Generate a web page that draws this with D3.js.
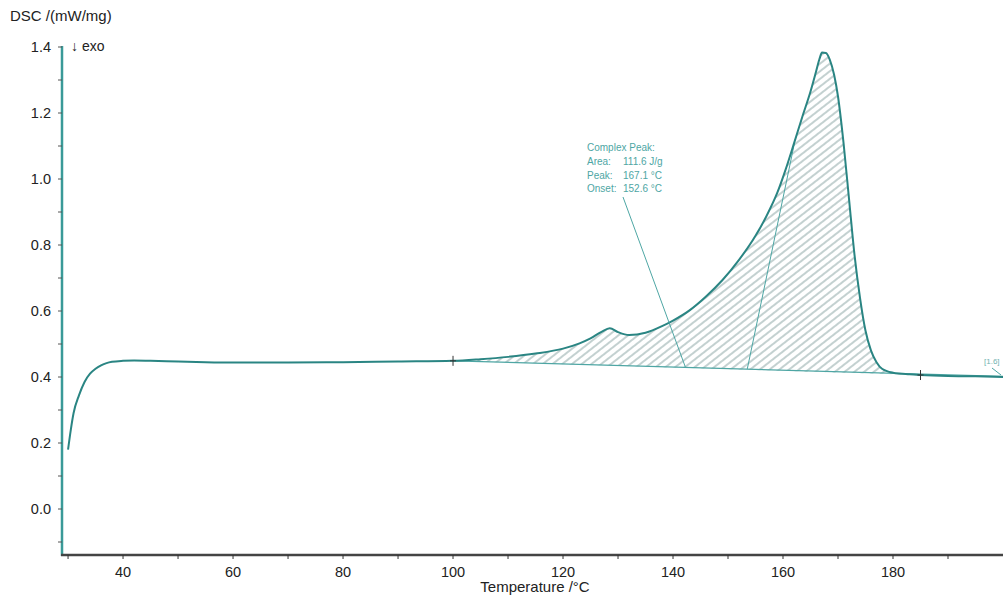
<!DOCTYPE html>
<html>
<head>
<meta charset="utf-8">
<script src="https://cdn.jsdelivr.net/npm/d3@7"></script>
<style>
  body { margin: 0; background: #fff; }
  svg { font-family: "Liberation Sans", Arial, sans-serif; }
</style>
</head>
<body>
<svg id="chart" width="1003" height="601"></svg>
<script>
// DSC curve
var temp = [30, 30.5, 31, 32, 33, 34, 35, 36, 37, 38, 40, 42, 45, 50, 55, 60, 70, 80, 90,
            100, 105, 110, 115, 120, 123, 125, 127, 128.5, 130, 132, 135, 138, 140, 143, 146,
            149, 152, 155, 157, 159, 160.5, 162, 163.5, 165, 166, 166.6, 167.1, 167.8, 168.5,
            169.3, 170, 171, 172, 173, 174, 175, 176, 177, 178, 180, 183, 185, 190, 195, 200];
var dsc = [0.18, 0.24, 0.29, 0.345, 0.385, 0.41, 0.425, 0.435, 0.442, 0.446, 0.449, 0.45, 0.449,
           0.447, 0.445, 0.444, 0.444, 0.445, 0.447,
           0.449, 0.454, 0.461, 0.471, 0.486, 0.502, 0.517, 0.537, 0.548, 0.536, 0.527, 0.534,
           0.554, 0.571, 0.602, 0.644, 0.694, 0.755, 0.828, 0.888, 0.96, 1.03, 1.108, 1.188,
           1.265, 1.325, 1.362, 1.383, 1.382, 1.362, 1.315, 1.25, 1.11, 0.94, 0.77, 0.64, 0.54,
           0.48, 0.445, 0.425, 0.413, 0.408, 0.406, 0.403, 0.402, 0.40];

// integration baseline and onset tangent
var baseT = [100, 185];
var baseV = [0.449, 0.406];
var onsetT = [153.5, 162.1];
var onsetV = [0.424, 1.11];
var leaderT = 142.3;

var xTicks = [40, 60, 80, 100, 120, 140, 160, 180];
var yTicks = [0.0, 0.2, 0.4, 0.6, 0.8, 1.0, 1.2, 1.4];
var peakText = ['Complex Peak:', 'Area:', 'Peak:', 'Onset:'];
var peakVals = ['', '111.6 J/g', '167.1 °C', '152.6 °C'];

var teal = '#2a8583';
var light = '#4ea6a4';

var svg = d3.select('#chart');

var x = d3.scaleLinear().domain([28.9, 200]).range([62, 1003]);
var y = d3.scaleLinear().domain([0, 1.4]).range([509, 47]);

// hatch pattern
var defs = svg.append('defs');
var pat = defs.append('pattern')
    .attr('id', 'hatch')
    .attr('patternUnits', 'userSpaceOnUse')
    .attr('width', 6).attr('height', 6)
    .attr('patternTransform', 'rotate(-38)');
pat.append('line')
    .attr('x1', 0).attr('y1', 3).attr('x2', 6).attr('y2', 3)
    .attr('stroke', '#88a3a2').attr('stroke-width', 1);

function baseAt(t){
    return baseV[0] + (baseV[1] - baseV[0]) * (t - baseT[0]) / (baseT[1] - baseT[0]);
}

var pts = temp.map((t, i) => ({t: t, v: dsc[i]}));
var peakPts = pts.filter(p => p.t >= baseT[0] && p.t <= baseT[1]);

svg.append('path')
    .datum(peakPts)
    .attr('d', d3.area()
        .x(d => x(d.t))
        .y0(d => y(baseAt(d.t)))
        .y1(d => y(d.v))
        .curve(d3.curveMonotoneX))
    .attr('fill', 'url(#hatch)');

// baseline
svg.append('line')
    .attr('x1', x(baseT[0])).attr('y1', y(baseV[0]))
    .attr('x2', x(200)).attr('y2', y(0.402))
    .attr('stroke', light).attr('stroke-width', 1.2);

// onset tangent
svg.append('line')
    .attr('x1', x(onsetT[0])).attr('y1', y(onsetV[0]))
    .attr('x2', x(onsetT[1])).attr('y2', y(onsetV[1]))
    .attr('stroke', light).attr('stroke-width', 1);

// main curve
svg.append('path')
    .datum(pts)
    .attr('d', d3.line().x(d => x(d.t)).y(d => y(d.v)).curve(d3.curveMonotoneX))
    .attr('fill', 'none')
    .attr('stroke', teal)
    .attr('stroke-width', 2);

// limit crosses
baseT.forEach((t, i) => {
    var cx = x(t), cy = y(baseV[i]);
    svg.append('line').attr('x1', cx).attr('x2', cx).attr('y1', cy - 5).attr('y2', cy + 5)
        .attr('stroke', '#333').attr('stroke-width', 1);
    svg.append('line').attr('x1', cx - 3).attr('x2', cx + 3).attr('y1', cy).attr('y2', cy)
        .attr('stroke', '#333').attr('stroke-width', 1);
});

// annotation
var ann = svg.append('g').attr('font-size', 10).attr('fill', light);
peakText.forEach((s, i) => {
    ann.append('text').attr('x', 587).attr('y', 151 + i * 13.8).text(s);
    ann.append('text').attr('x', 623).attr('y', 151 + i * 13.8).text(peakVals[i]);
});
svg.append('line')
    .attr('x1', 623).attr('y1', 197)
    .attr('x2', x(leaderT)).attr('y2', y(baseAt(leaderT)))
    .attr('stroke', light).attr('stroke-width', 1);

svg.append('text').attr('x', 984).attr('y', 364)
    .attr('font-size', 8).attr('fill', '#6fb3b1').text('[1.6]');
svg.append('line').attr('x1', 992).attr('y1', 368).attr('x2', 1001).attr('y2', 375)
    .attr('stroke', light).attr('stroke-width', 1);

// y axis
var yAxis = svg.append('g').attr('transform', 'translate(62,0)');
yAxis.append('line').attr('x1', 0).attr('x2', 0).attr('y1', 46).attr('y2', 556)
    .attr('stroke', '#3a9a98').attr('stroke-width', 2.5);
var yMinor = d3.range(-0.1, 1.41, 0.1);
yAxis.selectAll('.ym').data(yMinor).join('line')
    .attr('x1', -4).attr('x2', 0)
    .attr('y1', d => y(d)).attr('y2', d => y(d))
    .attr('stroke', '#555').attr('stroke-width', 1);
yAxis.selectAll('text').data(yTicks).join('text')
    .attr('x', -11).attr('y', d => y(d) + 5)
    .attr('text-anchor', 'end')
    .attr('font-size', 14.5).attr('fill', '#222')
    .text(d => d.toFixed(1));

// x axis
var xAxis = svg.append('g').attr('transform', 'translate(0,555)');
xAxis.append('line').attr('x1', 61).attr('x2', 1003).attr('y1', 0).attr('y2', 0)
    .attr('stroke', '#444').attr('stroke-width', 2.5);
var xMinor = d3.range(30, 200, 10);
xAxis.selectAll('.xm').data(xMinor).join('line')
    .attr('x1', d => x(d)).attr('x2', d => x(d))
    .attr('y1', 0).attr('y2', 4)
    .attr('stroke', '#333').attr('stroke-width', 1);
xAxis.selectAll('text').data(xTicks).join('text')
    .attr('x', d => x(d)).attr('y', 22)
    .attr('text-anchor', 'middle')
    .attr('font-size', 14.5).attr('fill', '#222')
    .text(d => d);

// titles
svg.append('text').attr('x', 10).attr('y', 21)
    .attr('font-size', 15).attr('fill', '#222').text('DSC /(mW/mg)');
svg.append('text').attr('x', 71).attr('y', 51)
    .attr('font-size', 14).attr('fill', '#222').text('↓ exo');
svg.append('text').attr('x', 535).attr('y', 592)
    .attr('text-anchor', 'middle')
    .attr('font-size', 15).attr('fill', '#222').text('Temperature /°C');
</script>
</body>
</html>
